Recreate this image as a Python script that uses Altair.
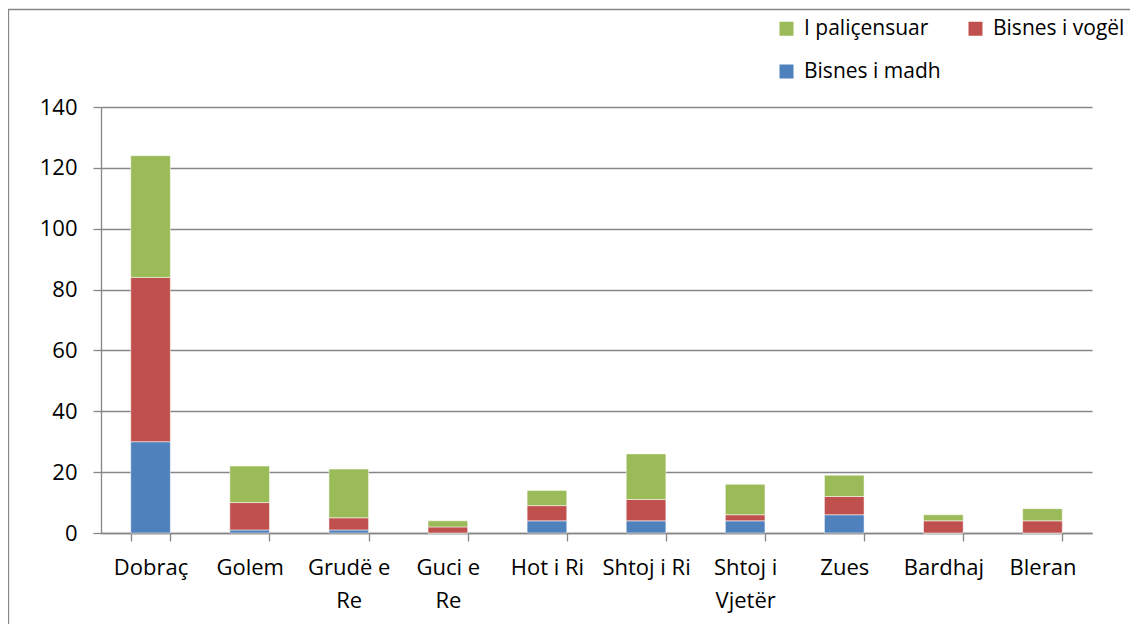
import altair as alt
import pandas as pd

categories = ["Dobraç", "Golem", "Grudë e Re", "Guci e Re", "Hot i Ri",
              "Shtoj i Ri", "Shtoj i Vjetër", "Zues", "Bardhaj", "Bleran"]
bisnes_madh = [30, 1, 1, 0, 4, 4, 4, 6, 0, 0]
bisnes_vogel = [54, 9, 4, 2, 5, 7, 2, 6, 4, 4]
palicensuar = [40, 12, 16, 2, 5, 15, 10, 7, 2, 4]

series_names = ["I paliçensuar", "Bisnes i vogël", "Bisnes i madh"]
series_colors = ["#9BBB59", "#C0504D", "#4F81BD"]
wrapped = {"Grudë e Re": ["Grudë e", "Re"], "Guci e Re": ["Guci e", "Re"],
           "Shtoj i Vjetër": ["Shtoj i", "Vjetër"]}

rows = []
for i, c in enumerate(categories):
    rows.append({"cat": c, "series": "Bisnes i madh", "value": bisnes_madh[i], "ord": 0})
    rows.append({"cat": c, "series": "Bisnes i vogël", "value": bisnes_vogel[i], "ord": 1})
    rows.append({"cat": c, "series": "I paliçensuar", "value": palicensuar[i], "ord": 2})
df = pd.DataFrame(rows)

expr = "datum.label"
for k, v in wrapped.items():
    expr = f"datum.label == '{k}' ? {v!r} : (" + expr + ")"

FONT = "Open Sans"
GRAY = "#868686"

bars = alt.Chart(df).mark_bar(stroke="white", strokeOpacity=0.5, strokeWidth=1).encode(
    x=alt.X("cat:N", sort=categories, title=None,
            scale=alt.Scale(paddingInner=0.6, paddingOuter=0.3),
            axis=alt.Axis(labelAngle=0, labelExpr=expr, tickBand="extent",
                          tickSize=8, tickColor=GRAY, tickWidth=1.3,
                          domainColor=GRAY, domainWidth=1.3,
                          labelFont=FONT, labelFontSize=22, labelColor="black",
                          labelPadding=16, labelLineHeight=33, grid=False)),
    y=alt.Y("value:Q", stack="zero", title=None,
            scale=alt.Scale(domain=[0, 140], nice=False),
            axis=alt.Axis(values=list(range(0, 141, 20)), tickSize=8, tickColor=GRAY,
                          tickWidth=1.3, domainColor=GRAY, domainWidth=1.3,
                          gridColor=GRAY, gridWidth=1.3, grid=True,
                          labelFont=FONT, labelFontSize=22, labelColor="black",
                          labelPadding=16)),
    color=alt.Color("series:N", title=None,
                    scale=alt.Scale(domain=series_names, range=series_colors),
                    legend=alt.Legend(orient="none", legendX=675, legendY=-89,
                                      direction="horizontal",
                                      columns=2, symbolType="square", symbolSize=196,
                                      symbolStrokeWidth=0, labelFont=FONT,
                                      labelFontSize=21, labelColor="black",
                                      labelOffset=7, rowPadding=21, columnPadding=24,
                                      padding=0)),
    order=alt.Order("ord:Q", sort="ascending"),
)

frame = alt.Chart(pd.DataFrame({"a": [0]})).mark_rect(
    fill=None, stroke=GRAY, strokeWidth=1.3, clip=False).encode(
    x=alt.value(-92.5), x2=alt.value(1100), y=alt.value(-97.5), y2=alt.value(560))

chart = alt.layer(frame, bars).properties(
    width=991, height=426,
    padding={"left": 93, "top": 99, "right": 38, "bottom": 91},
    autosize=alt.AutoSizeParams(type="none"),
).configure_view(stroke=None)

chart.save("out.html", embed_options={"renderer": "svg", "actions": False})
